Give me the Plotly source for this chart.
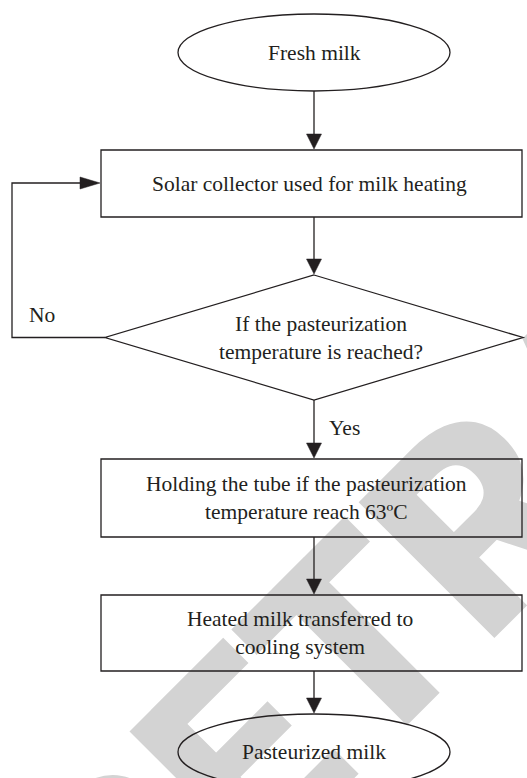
import plotly.graph_objects as go

W, H = 527, 778

# flowchart content
node_labels = [
    "Fresh milk",
    "Solar collector used for milk heating",
    "If the pasteurization<br>temperature is reached?",
    "Holding the tube if the pasteurization<br>temperature reach 63ºC",
    "Heated milk transferred to<br>cooling system",
    "Pasteurized milk",
]
node_kinds = ["terminal", "process", "decision", "process", "process", "terminal"]
branch_labels = ["Yes", "No"]
watermark_text = "RETRACTED"

# geometry in pixels, y measured downward
CX = 314
node_tops = [14, 150, 275, 459, 595, 714]
node_bottoms = [91, 217, 400, 537, 671, 790]
text_x = [314, 309, 321, 306, 300, 314]
BOX_LEFT, BOX_RIGHT = 101, 522
DIAMOND_HALF_W = 209
ELLIPSE_HALF_W = 136
LOOP_X, LOOP_Y = 12, 183

INK = "#231f20"
GREY = "#d3d3d3"
TEXT_FONT = dict(family="Liberation Serif", size=21.5, color=INK)
LINE_W = 1.3


def arrow_head(tip_x, tip_y, direction, length=15, half=7.5):
    # filled triangle pointing in direction ("down" or "right")
    if direction == "down":
        pts = [(tip_x, tip_y), (tip_x - half, tip_y - length), (tip_x + half, tip_y - length)]
    else:
        pts = [(tip_x, tip_y), (tip_x - length, tip_y - half), (tip_x - length, tip_y + half)]
    path = "M " + " L ".join(f"{x},{y}" for x, y in pts) + " Z"
    return dict(type="path", path=path, fillcolor=INK, line=dict(color=INK, width=0.5), layer="above")


fig = go.Figure()
shapes = []
annotations = []

# watermark behind everything
wm_x, wm_y = 591, 383
shapes.append(dict(
    type="rect", x0=wm_x - 1, x1=wm_x + 1, y0=wm_y - 1, y1=wm_y + 1,
    line=dict(width=0), layer="below",
    label=dict(text=watermark_text, textangle=-45, textposition="middle center",
               font=dict(family="Roboto", size=270, color=GREY, weight=900)),
))

for label, kind, top, bottom, tx in zip(node_labels, node_kinds, node_tops, node_bottoms, text_x):
    mid = (top + bottom) / 2
    if kind == "terminal":
        shapes.append(dict(type="circle", x0=CX - ELLIPSE_HALF_W, x1=CX + ELLIPSE_HALF_W,
                           y0=top, y1=bottom, line=dict(color=INK, width=LINE_W), layer="above"))
    elif kind == "process":
        shapes.append(dict(type="rect", x0=BOX_LEFT, x1=BOX_RIGHT, y0=top, y1=bottom,
                           line=dict(color=INK, width=LINE_W), layer="above"))
    else:
        path = (f"M {CX},{top} L {CX + DIAMOND_HALF_W},{mid} "
                f"L {CX},{bottom} L {CX - DIAMOND_HALF_W},{mid} Z")
        shapes.append(dict(type="path", path=path, line=dict(color=INK, width=LINE_W), layer="above"))
    annotations.append(dict(x=tx, y=mid, text=label, showarrow=False, font=TEXT_FONT,
                            xanchor="center", yanchor="middle"))

# straight connectors down the main column
for i in range(len(node_labels) - 1):
    y_from = node_bottoms[i]
    y_to = node_tops[i + 1]
    shapes.append(dict(type="line", x0=CX, x1=CX, y0=y_from, y1=y_to - 10,
                       line=dict(color=INK, width=LINE_W), layer="above"))
    shapes.append(arrow_head(CX, y_to - 1, "down"))

# loop back from the decision ("No")
dec = node_kinds.index("decision")
dec_mid = (node_tops[dec] + node_bottoms[dec]) / 2
loop_path = (f"M {CX - DIAMOND_HALF_W},{dec_mid} L {LOOP_X},{dec_mid} "
             f"L {LOOP_X},{LOOP_Y} L {BOX_LEFT - 15},{LOOP_Y}")
shapes.append(dict(type="path", path=loop_path, line=dict(color=INK, width=LINE_W), layer="above"))
shapes.append(arrow_head(BOX_LEFT - 1, LOOP_Y, "right", length=20, half=6))

annotations.append(dict(x=344, y=428, text=branch_labels[0], showarrow=False, font=TEXT_FONT))
annotations.append(dict(x=42, y=315, text=branch_labels[1], showarrow=False, font=TEXT_FONT))

fig.update_layout(
    width=W, height=H,
    margin=dict(l=0, r=0, t=0, b=0),
    paper_bgcolor="white", plot_bgcolor="white",
    xaxis=dict(range=[0, W], visible=False, fixedrange=True),
    yaxis=dict(range=[H, 0], visible=False, fixedrange=True),
    shapes=shapes,
    annotations=annotations,
    showlegend=False,
)

# drop the browser's default body margin so the figure sits at the top-left corner
fig.write_html(
    "out.html",
    config={"displayModeBar": False},
    post_script="document.body.style.margin='0';document.body.style.overflow='hidden';",
)
